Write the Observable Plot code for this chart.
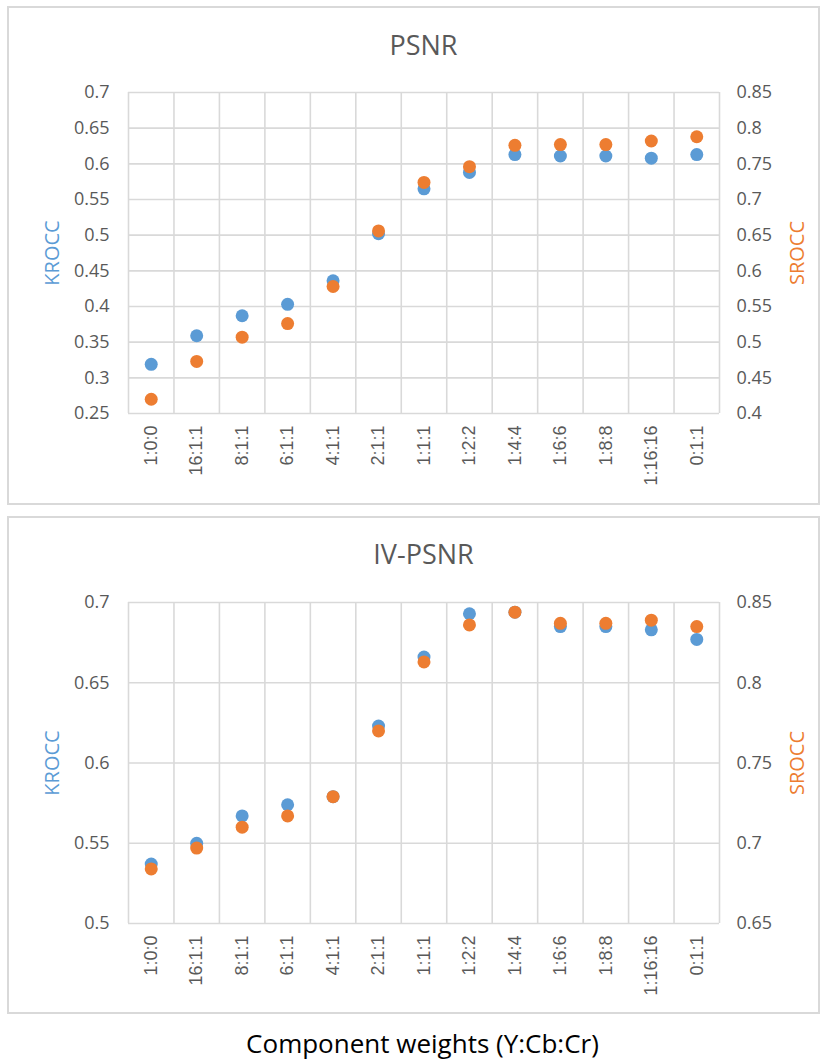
<!DOCTYPE html>
<html>
<head>
<meta charset="utf-8">
<script src="https://cdn.jsdelivr.net/npm/d3@7"></script>
<script src="https://cdn.jsdelivr.net/npm/@observablehq/plot@0.6"></script>
<style>
  html, body { margin: 0; padding: 0; background: #fff; }
  #wrap { position: relative; width: 825px; height: 1061px; overflow: hidden; font-family: "Open Sans", sans-serif; }
  .box { position: absolute; border: 2px solid #d9d9d9; box-sizing: border-box; }
  .title { position: absolute; left: 128px; width: 591px; text-align: center; color: #595959; font-size: 27px; line-height: 1; }
  .chart { position: absolute; left: 0; }
  #caption { position: absolute; left: 0; width: 845px; text-align: center; top: 1030px; font-size: 26px; color: #000; line-height: 1; }
</style>
</head>
<body>
<div id="wrap">
  <div class="box" style="left:7px;top:6px;width:813px;height:499px"></div>
  <div class="box" style="left:7px;top:516px;width:813px;height:498px"></div>
  <div class="title" style="top:31px">PSNR</div>
  <div class="title" style="top:540px">IV-PSNR</div>
  <div class="chart" id="c1" style="top:60px"></div>
  <div class="chart" id="c2" style="top:570px"></div>
  <div id="caption">Component weights (Y:Cb:Cr)</div>
</div>
<script>
const categories = ["1:0:0","16:1:1","8:1:1","6:1:1","4:1:1","2:1:1","1:1:1","1:2:2","1:4:4","1:6:6","1:8:8","1:16:16","0:1:1"];

// PSNR panel
const psnrKrocc = [0.319, 0.359, 0.387, 0.403, 0.436, 0.502, 0.565, 0.588, 0.613, 0.611, 0.611, 0.608, 0.613];
const psnrSrocc = [0.420, 0.473, 0.507, 0.526, 0.578, 0.656, 0.724, 0.746, 0.776, 0.777, 0.777, 0.782, 0.788];
const psnrLeftTicks = [0.25, 0.3, 0.35, 0.4, 0.45, 0.5, 0.55, 0.6, 0.65, 0.7];
const psnrRightTicks = [0.4, 0.45, 0.5, 0.55, 0.6, 0.65, 0.7, 0.75, 0.8, 0.85];

// IV-PSNR panel
const ivKrocc = [0.537, 0.550, 0.567, 0.574, 0.579, 0.623, 0.666, 0.693, 0.694, 0.685, 0.685, 0.683, 0.677];
const ivSrocc = [0.684, 0.697, 0.710, 0.717, 0.729, 0.770, 0.813, 0.836, 0.844, 0.837, 0.837, 0.839, 0.835];
const ivLeftTicks = [0.5, 0.55, 0.6, 0.65, 0.7];
const ivRightTicks = [0.65, 0.7, 0.75, 0.8, 0.85];

const BLUE = "#5B9BD5", ORANGE = "#ED7D31", GRID = "#d9d9d9", TXT = "#595959";

function makeChart(krocc, srocc, leftTicks, rightTicks) {
  const offset = rightTicks[0] - leftTicks[0];
  const idx = categories.map((_, i) => i);
  const edges = idx.concat([categories.length]);
  const centers = idx.map(i => i + 0.5);
  return Plot.plot({
    width: 825,
    height: 440,
    marginLeft: 128,
    marginRight: 106,
    marginTop: 32,
    marginBottom: 87,
    style: { fontFamily: "Open Sans, sans-serif", background: "transparent", overflow: "visible" },
    x: { type: "linear", domain: [0, categories.length], axis: null },
    y: { domain: [leftTicks[0], leftTicks[leftTicks.length - 1]], axis: null },
    marks: [
      Plot.ruleY(leftTicks, { stroke: GRID, strokeWidth: 1.6 }),
      Plot.ruleX(edges, { stroke: GRID, strokeWidth: 1.6 }),
      Plot.axisY(leftTicks, { anchor: "left", tickSize: 0, tickPadding: 19, fontSize: 18, fill: TXT, label: null, tickFormat: d => String(d) }),
      Plot.axisY(leftTicks, { anchor: "right", tickSize: 0, tickPadding: 17, fontSize: 18, fill: TXT, label: null,
        tickFormat: d => String(rightTicks[leftTicks.indexOf(d)]) }),
      Plot.axisX(centers, { anchor: "bottom", tickSize: 0, tickPadding: 12, tickRotate: -90, fontSize: 18, fill: TXT, label: null,
        fontFamily: "Liberation Sans, Arial, sans-serif",
        tickFormat: d => categories[Math.floor(d)] }),
      Plot.text(["KROCC"], { frameAnchor: "left", dx: -76, rotate: -90, textAnchor: "middle", text: d => d, fill: BLUE, fontSize: 20 }),
      Plot.text(["SROCC"], { frameAnchor: "right", dx: 78, rotate: -90, textAnchor: "middle", text: d => d, fill: ORANGE, fontSize: 20 }),
      Plot.dot(idx, { x: i => i + 0.5, y: i => krocc[i], r: 6.5, fill: BLUE, stroke: "none" }),
      Plot.dot(idx, { x: i => i + 0.5, y: i => srocc[i] - offset, r: 6.5, fill: ORANGE, stroke: "none" })
    ]
  });
}

document.getElementById("c1").appendChild(makeChart(psnrKrocc, psnrSrocc, psnrLeftTicks, psnrRightTicks));
document.getElementById("c2").appendChild(makeChart(ivKrocc, ivSrocc, ivLeftTicks, ivRightTicks));
</script>
</body>
</html>
